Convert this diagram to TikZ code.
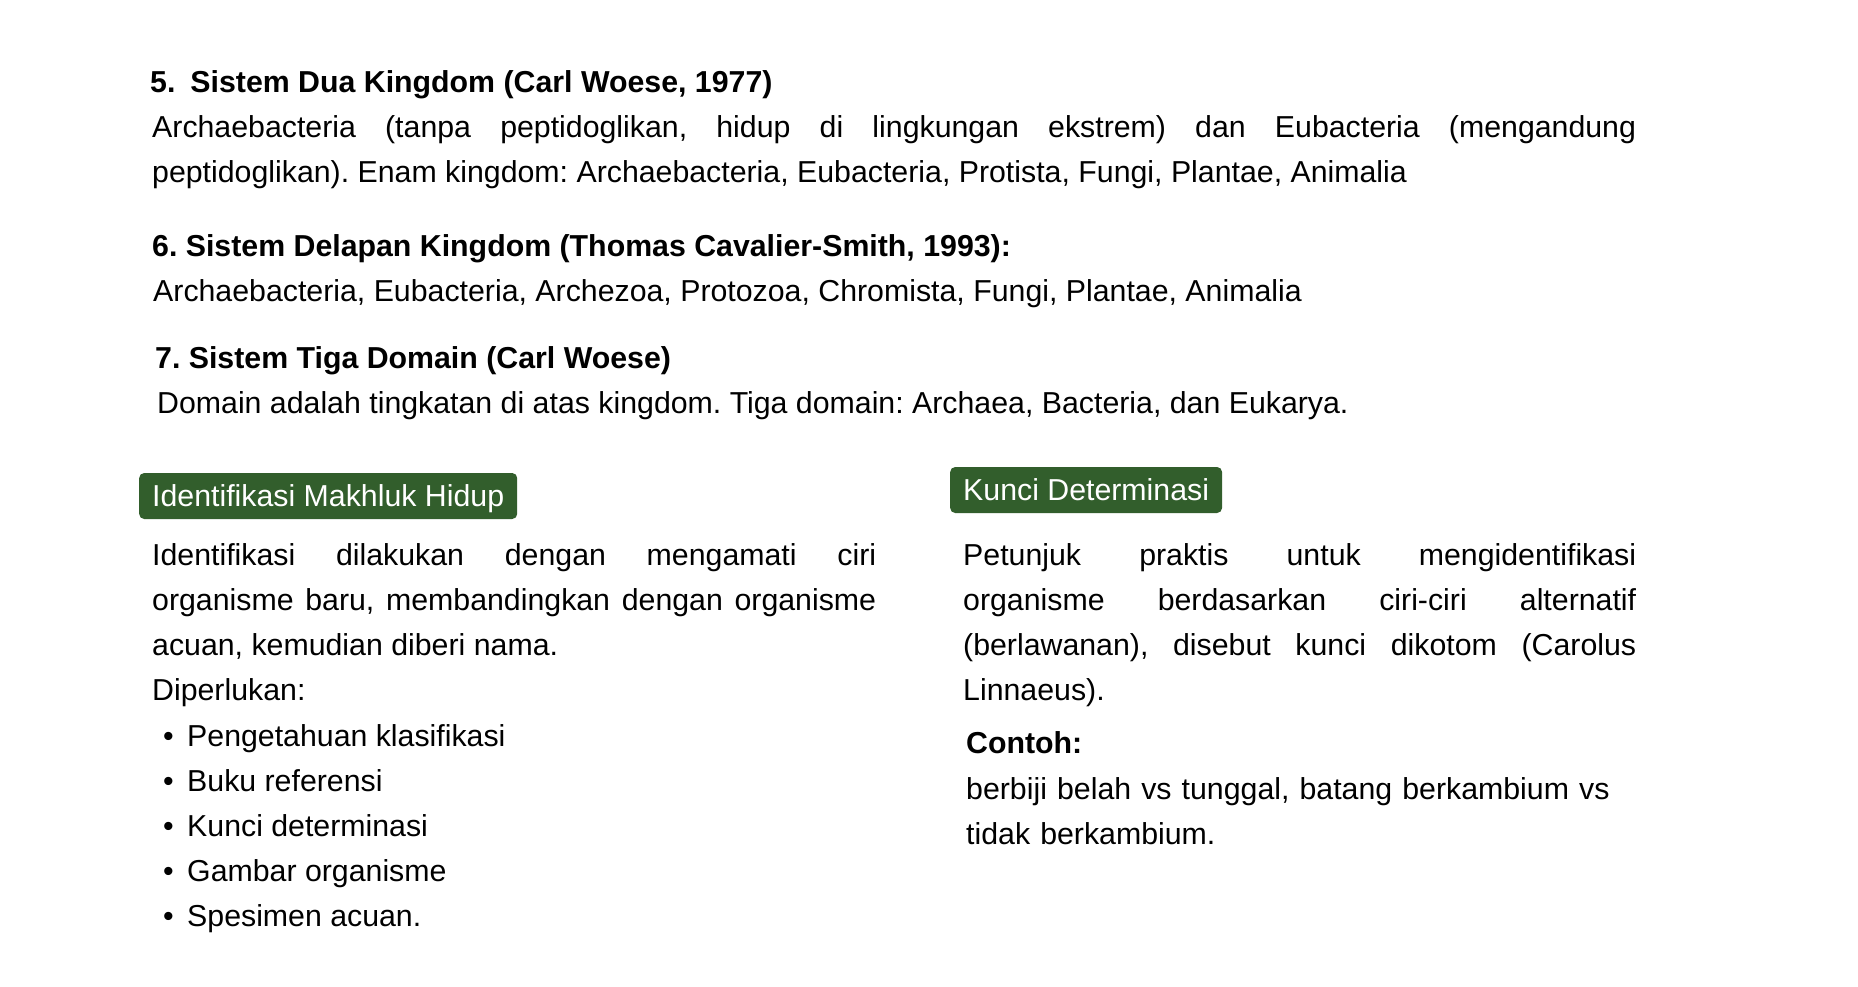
\documentclass[tikz,border=0pt]{standalone}
\usepackage{fontspec}
\setmainfont{Liberation Sans}
\usepackage{xcolor}
\definecolor{tagGreen}{RGB}{50,94,44}
\newcommand{\pxsize}{1pt}
\tolerance=10000
\hyphenpenalty=10000
\exhyphenpenalty=10000
\frenchspacing

\begin{document}
\begin{tikzpicture}
\fill[white] (0,0) rectangle (1858*\pxsize,-987*\pxsize);
\useasboundingbox (0,0) rectangle (1858*\pxsize,-987*\pxsize);
\tikzstyle{every node}=[inner sep=0pt,
			anchor=base west,
			font=\fontsize{30.3}{45}\selectfont
			]
\tikzstyle{heading}=[font=\fontsize{30.3}{45}\selectfont\bfseries]
\tikzstyle{para}=[align=justify]
\tikzstyle{tagbox}=[fill=tagGreen,
			text=white,
			rounded corners=5*\pxsize,
			inner xsep=13*\pxsize,
			inner ysep=0pt,
			text height=33*\pxsize,
			text depth=13*\pxsize
			]


\node[heading] (h5) at (150*\pxsize,-93*\pxsize) {5.\hspace{15pt}Sistem Dua Kingdom (Carl Woese, 1977)};
        

\node[para, text width=1484*\pxsize] (p5) at (152*\pxsize,-138*\pxsize) {Archaebacteria (tanpa peptidoglikan, hidup di lingkungan ekstrem) dan Eubacteria (mengandung\linebreak peptidoglikan). Enam kingdom: Archaebacteria, Eubacteria, Protista, Fungi, Plantae, Animalia};
        

\node[heading] (h6) at (152*\pxsize,-256*\pxsize) {6. Sistem Delapan Kingdom (Thomas Cavalier-Smith, 1993):};
        

\node (p6) at (153*\pxsize,-301*\pxsize) {Archaebacteria, Eubacteria, Archezoa, Protozoa, Chromista, Fungi, Plantae, Animalia};
        

\node[heading] (h7) at (155*\pxsize,-368*\pxsize) {7. Sistem Tiga Domain (Carl Woese)};
        

\node (p7) at (157*\pxsize,-413*\pxsize) {Domain adalah tingkatan di atas kingdom. Tiga domain: Archaea, Bacteria, dan Eukarya.};
        

\node[tagbox] (tagid) at (139*\pxsize,-506*\pxsize) {Identifikasi Makhluk Hidup};
        

\node[tagbox] (tagkey) at (950*\pxsize,-500*\pxsize) {Kunci Determinasi};
        

\node[para, text width=724*\pxsize] (idtext) at (152*\pxsize,-565*\pxsize) {Identifikasi dilakukan dengan mengamati ciri\linebreak organisme baru, membandingkan dengan organisme\linebreak acuan, kemudian diberi nama.};
        

\node (needs) at (152*\pxsize,-700*\pxsize) {Diperlukan:};
        

\node (dot1) at (163*\pxsize,-746*\pxsize) {\textbullet};
\node (item1) at (187*\pxsize,-746*\pxsize) {Pengetahuan klasifikasi};
        

\node (dot2) at (163*\pxsize,-791*\pxsize) {\textbullet};
\node (item2) at (187*\pxsize,-791*\pxsize) {Buku referensi};
        

\node (dot3) at (163*\pxsize,-836*\pxsize) {\textbullet};
\node (item3) at (187*\pxsize,-836*\pxsize) {Kunci determinasi};
        

\node (dot4) at (163*\pxsize,-881*\pxsize) {\textbullet};
\node (item4) at (187*\pxsize,-881*\pxsize) {Gambar organisme};
        

\node (dot5) at (163*\pxsize,-926*\pxsize) {\textbullet};
\node (item5) at (187*\pxsize,-926*\pxsize) {Spesimen acuan.};
        

\node[para, text width=673*\pxsize] (keytext) at (963*\pxsize,-565*\pxsize) {Petunjuk praktis untuk mengidentifikasi\linebreak organisme berdasarkan ciri-ciri alternatif\linebreak (berlawanan), disebut kunci dikotom (Carolus\linebreak Linnaeus).};
        

\node[heading] (example) at (966*\pxsize,-753*\pxsize) {Contoh:};
        

\node[align=left, text width=670*\pxsize] (exampletext) at (966*\pxsize,-799*\pxsize) {berbiji belah vs tunggal, batang berkambium vs\\tidak berkambium.};
            

\end{tikzpicture}
\end{document}
